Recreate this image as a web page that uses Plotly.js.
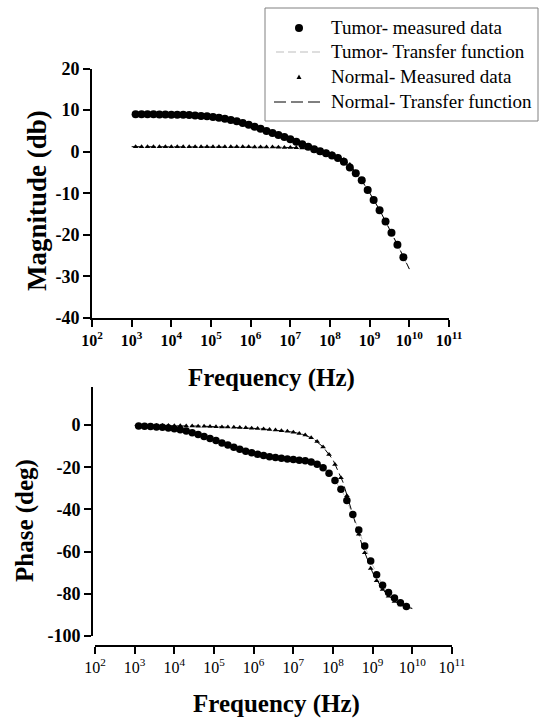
<!DOCTYPE html>
<html>
<head>
<meta charset="utf-8">
<script src="https://cdn.plot.ly/plotly-3.0.1.min.js"></script>
<style>html,body{margin:0;padding:0;background:#fff}#chart{width:545px;height:719px}</style>
</head>
<body>
<div id="chart"></div>
<script>
// measured frequencies (log10 Hz)
var measLogF = [3.10,3.25,3.40,3.55,3.70,3.85,4.00,4.15,4.30,4.45,4.60,4.75,4.90,5.05,5.20,5.35,5.50,5.65,5.80,5.95,6.10,6.25,6.40,6.55,6.70,6.85,7.00,7.15,7.30,7.45,7.60,7.75,7.90,8.05,8.20,8.35,8.50,8.65,8.80,8.95,9.10,9.25,9.40,9.55,9.70,9.85];
var tumorMag = [9.0,9.0,9.0,9.0,8.95,8.95,8.9,8.9,8.85,8.8,8.7,8.6,8.5,8.35,8.15,7.9,7.6,7.3,6.9,6.5,6.0,5.5,5.0,4.5,4.0,3.5,3.0,2.4,1.8,1.2,0.6,0.1,-0.4,-0.9,-1.5,-2.4,-3.8,-5.2,-6.9,-9.2,-11.6,-14.1,-16.8,-19.5,-22.4,-25.4];
var normalMag = [1.2,1.2,1.2,1.2,1.2,1.2,1.2,1.2,1.2,1.2,1.2,1.2,1.2,1.2,1.2,1.2,1.2,1.2,1.2,1.2,1.15,1.15,1.1,1.1,1.05,1.0,1.0,0.95,0.9,0.8,0.6,0.35,0.0,-0.45,-1.1,-1.9,-3.1,-4.9,-6.8,-9.1,-11.5,-14.0,-16.7,-19.4,-22.3,-25.3];
var tumorPhase = [-0.5,-0.6,-0.7,-0.9,-1.1,-1.4,-1.8,-2.3,-2.9,-3.7,-4.5,-5.4,-6.4,-7.4,-8.5,-9.5,-10.5,-11.5,-12.4,-13.2,-13.9,-14.5,-15.0,-15.4,-15.8,-16.1,-16.4,-16.7,-17.0,-17.6,-18.6,-20.3,-22.9,-26.3,-30.5,-35.8,-42.4,-49.8,-57.4,-64.5,-71.0,-75.9,-79.4,-82.0,-84.2,-86.0];
var normalPhase = [-0.2,-0.2,-0.2,-0.25,-0.3,-0.3,-0.35,-0.4,-0.45,-0.5,-0.55,-0.6,-0.7,-0.8,-0.9,-1.0,-1.1,-1.2,-1.35,-1.5,-1.7,-1.9,-2.1,-2.4,-2.7,-3.0,-3.4,-4.0,-4.8,-6.0,-7.8,-10.4,-14.0,-18.7,-25.0,-33.5,-42.5,-51.8,-60.5,-68.0,-73.8,-78.0,-81.2,-83.6,-85.3,-86.4];

// transfer function curves (log10 Hz)
var tfLogF = [3.0,3.25,3.5,3.75,4.0,4.25,4.5,4.75,5.0,5.25,5.5,5.75,6.0,6.25,6.5,6.75,7.0,7.25,7.5,7.75,8.0,8.25,8.5,8.75,9.0,9.25,9.5,9.75,10.0];
var tumorMagTF = [9.0,9.0,9.0,8.95,8.9,8.85,8.75,8.6,8.4,8.05,7.6,7.05,6.35,5.5,4.65,3.85,3.0,2.0,1.0,0.1,-0.75,-1.75,-3.8,-6.3,-10.0,-14.1,-18.6,-23.4,-28.3];
var normalMagTF = [1.2,1.2,1.2,1.2,1.2,1.2,1.2,1.2,1.2,1.2,1.2,1.2,1.2,1.15,1.1,1.05,1.0,0.92,0.75,0.35,-0.3,-1.3,-3.1,-6.2,-9.9,-14.0,-18.5,-23.3,-28.2];
var tumorPhaseTF = [-0.4,-0.6,-0.85,-1.2,-1.8,-2.7,-3.9,-5.4,-7.1,-8.8,-10.5,-12.1,-13.4,-14.5,-15.3,-15.9,-16.4,-16.9,-17.9,-20.3,-25.0,-32.0,-42.4,-55.0,-66.5,-75.9,-81.2,-84.8,-86.8];
var normalPhaseTF = [-0.2,-0.2,-0.25,-0.3,-0.35,-0.4,-0.5,-0.6,-0.75,-0.95,-1.1,-1.3,-1.6,-1.9,-2.3,-2.8,-3.4,-4.5,-6.5,-10.4,-16.5,-27.0,-42.5,-58.0,-70.0,-78.0,-82.8,-85.6,-87.0];

// tick values / labels
var freqTickExp = [2,3,4,5,6,7,8,9,10,11];
var magTicks = [-40,-30,-20,-10,0,10,20];
var phaseTicks = [-100,-80,-60,-40,-20,0];

var seriesNames = ['Tumor- measured data','Tumor- Transfer function','Normal- Measured data','Normal- Transfer function'];

function hz(a){return a.map(function(v){return Math.pow(10,v);});}
var fMeas = hz(measLogF), fTF = hz(tfLogF);
var freqTickVals = hz(freqTickExp);
var freqTextBold = freqTickExp.map(function(e){return '<b>10<sup>'+e+'</sup></b>';});
var freqTextPlain = freqTickExp.map(function(e){return '10<sup>'+e+'</sup>';});
function boldNum(a){return a.map(function(v){return '<b>'+String(v)+'</b>';});}

var W = 545, H = 719;
var serif = 'Liberation Serif, Times New Roman, serif';
function px(x){return x/W;} function py(y){return 1-y/H;}

var styles = [
  {mode:'markers',marker:{symbol:'circle',size:8,color:'#000'}},
  {mode:'lines',line:{color:'#bdbdbd',width:1,dash:'5px,3px'}},
  {mode:'markers',marker:{symbol:'triangle-up',size:5,color:'#000'}},
  {mode:'lines',line:{color:'#000',width:1,dash:'10px,4px'}}
];
function tr(i,x,y,xa,ya){var t={x:x,y:y,name:seriesNames[i],showlegend:false,xaxis:xa,yaxis:ya};for(var k in styles[i])t[k]=styles[i][k];return t;}

var traces = [
  tr(1,fTF,tumorMagTF,'x','y'), tr(3,fTF,normalMagTF,'x','y'),
  tr(2,fMeas,normalMag,'x','y'), tr(0,fMeas,tumorMag,'x','y'),
  tr(1,fTF,tumorPhaseTF,'x2','y2'), tr(3,fTF,normalPhaseTF,'x2','y2'),
  tr(2,fMeas,normalPhase,'x2','y2'), tr(0,fMeas,tumorPhase,'x2','y2')
];
traces[7].marker = {symbol:'circle',size:7.5,color:'#000'};

var axBase = {showgrid:false,zeroline:false,showline:true,linecolor:'#000',linewidth:2,ticks:'outside',ticklen:7,tickwidth:2,tickcolor:'#000'};
function ax(o){var r={};for(var k in axBase)r[k]=axBase[k];for(var k2 in o)r[k2]=o[k2];return r;}
function tf(s){return {family:serif,size:s,color:'#000'};}

// hand-drawn legend box (paper coordinates)
var legRows = [28,52,77,102];
var shapes = [
  {type:'rect',xref:'paper',yref:'paper',x0:px(265),x1:px(538),y0:py(8),y1:py(121),line:{color:'#808080',width:1},fillcolor:'#fff',layer:'above'},
  {type:'circle',xref:'paper',yref:'paper',x0:px(295),x1:px(303),y0:py(legRows[0]-4),y1:py(legRows[0]+4),line:{width:0},fillcolor:'#000',layer:'above'},
  {type:'line',xref:'paper',yref:'paper',x0:px(276),x1:px(321),y0:py(legRows[1]),y1:py(legRows[1]),line:{color:'#bdbdbd',width:1,dash:'8px,4px'},layer:'above'},
  {type:'path',xref:'paper',yref:'paper',path:'M'+px(296.5)+','+py(legRows[2]+2)+' L'+px(301.5)+','+py(legRows[2]+2)+' L'+px(299)+','+py(legRows[2]-2.5)+' Z',line:{width:0},fillcolor:'#000',layer:'above'},
  {type:'line',xref:'paper',yref:'paper',x0:px(274),x1:px(321),y0:py(legRows[3]),y1:py(legRows[3]),line:{color:'#000',width:1,dash:'12px,5px'},layer:'above'}
];
var annotations = [
  {text:'<b>Magnitude (db)</b>',xref:'paper',yref:'paper',x:px(37),y:py(201),xanchor:'center',yanchor:'middle',showarrow:false,textangle:-90,font:{family:serif,size:27,color:'#000'}},
  {text:'<b>Frequency (Hz)</b>',xref:'paper',yref:'paper',x:px(271),y:py(378),xanchor:'center',yanchor:'middle',showarrow:false,font:{family:serif,size:25,color:'#000'}},
  {text:'<b>Phase (deg)</b>',xref:'paper',yref:'paper',x:px(25),y:py(521),xanchor:'center',yanchor:'middle',showarrow:false,textangle:-90,font:{family:serif,size:25,color:'#000'}},
  {text:'<b>Frequency (Hz)</b>',xref:'paper',yref:'paper',x:px(276),y:py(704),xanchor:'center',yanchor:'middle',showarrow:false,font:{family:serif,size:25,color:'#000'}}
];
seriesNames.forEach(function(n,i){
  annotations.push({text:n,xref:'paper',yref:'paper',x:px(329),y:py(legRows[i]),xanchor:'left',yanchor:'middle',showarrow:false,font:{family:serif,size:19,color:'#000'}});
});

var layout = {
  width:W,height:H,margin:{l:0,r:0,t:0,b:0},
  paper_bgcolor:'#fff',plot_bgcolor:'rgba(0,0,0,0)',
  font:{family:serif,color:'#000'},
  showlegend:false,
  xaxis: ax({type:'log',range:[2,11],tickmode:'array',tickvals:freqTickVals,ticktext:freqTextBold,domain:[px(92),px(449)],anchor:'y',tickfont:tf(16)}),
  yaxis: ax({range:[-40,20],tickmode:'array',tickvals:magTicks,ticktext:boldNum(magTicks),domain:[py(318),py(68.5)],anchor:'x',tickfont:tf(18)}),
  xaxis2: ax({type:'log',range:[2,11],tickmode:'array',tickvals:freqTickVals,ticktext:freqTextPlain,domain:[px(95),px(452)],anchor:'free',position:py(646),tickfont:tf(16)}),
  yaxis2: ax({range:[-100,18],tickmode:'array',tickvals:phaseTicks,ticktext:boldNum(phaseTicks),domain:[py(636),py(387)],anchor:'free',position:px(92),tickfont:tf(18)}),
  shapes:shapes,
  annotations:annotations
};

Plotly.newPlot('chart',traces,layout,{staticPlot:true,displayModeBar:false});
</script>
</body>
</html>
